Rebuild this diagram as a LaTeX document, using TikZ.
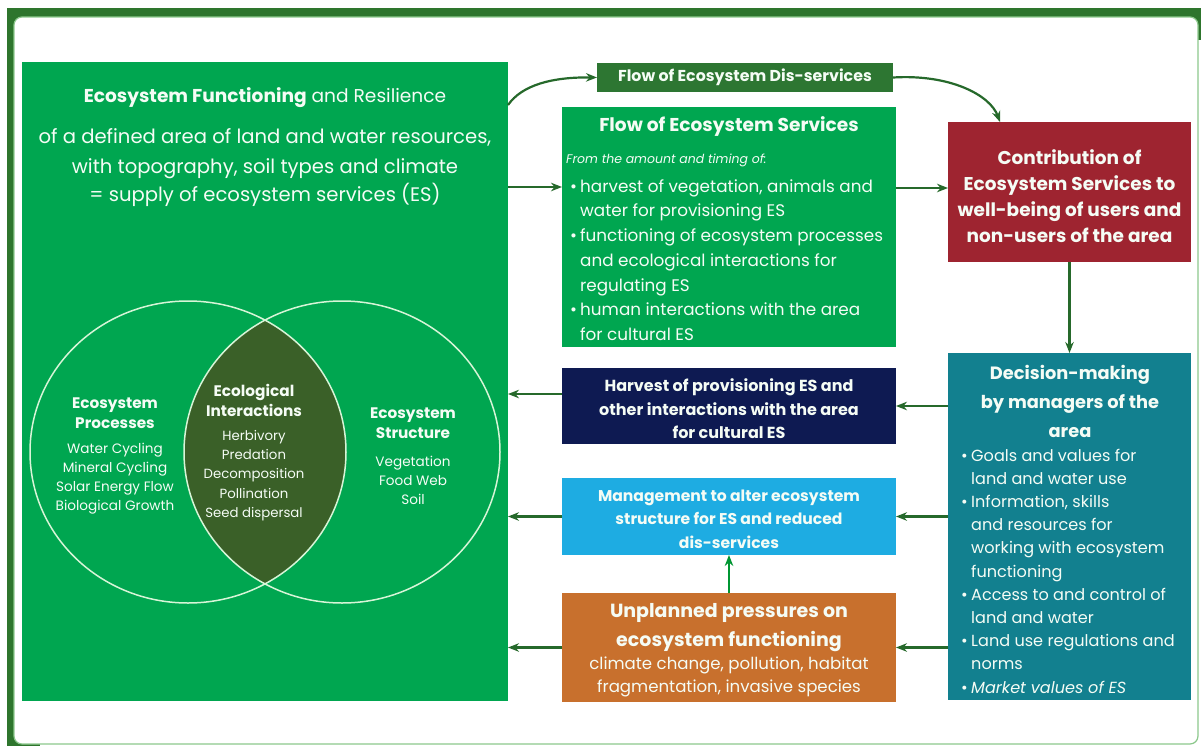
\documentclass[tikz,border=0pt]{standalone}
\usepackage{fontspec}
\setmainfont{Poppins}
\usetikzlibrary{arrows.meta}
\definecolor{frameg}{RGB}{46,117,45}
\definecolor{framel}{RGB}{140,200,140}
\definecolor{boxg}{RGB}{0,166,80}
\definecolor{disg}{RGB}{45,118,50}
\definecolor{arrg}{RGB}{38,105,43}
\definecolor{arrl}{RGB}{0,150,50}
\definecolor{lensg}{RGB}{58,96,40}
\definecolor{ring}{RGB}{215,245,215}
\definecolor{redb}{RGB}{158,36,48}
\definecolor{tealb}{RGB}{18,128,143}
\definecolor{navyb}{RGB}{14,26,82}
\definecolor{lblueb}{RGB}{30,172,226}
\definecolor{orangeb}{RGB}{200,112,45}
\definecolor{txtw}{RGB}{245,252,245}
\newcommand\fs[2]{\fontsize{#1}{#2}\selectfont}
\newcommand\bul{\makebox[10pt][l]{•}}
\newcommand\ind{\hspace*{10pt}}
\begin{document}
\begin{tikzpicture}[x=1pt,y=-1pt,
  panel/.style={inner sep=0pt, outer sep=0pt, text=txtw, align=center},
  txt/.style={inner sep=0pt, text=txtw, align=center},
  arr/.style={draw=arrg, line width=2.2pt, -{Stealth[length=11pt,width=8.5pt]}},
  arrlt/.style={draw=arrl, line width=2.2pt, -{Stealth[length=11pt,width=8.5pt]}},
  ringline/.style={draw=ring, line width=1.5pt}]
% canvas and frame
\fill[white] (0,0) rectangle (1203,747);
\useasboundingbox (0,0) rectangle (1203,747);
\fill[frameg] (7,8) rectangle (1201,40);
\fill[frameg] (7,8) rectangle (40,746);
\filldraw[fill=white, draw=framel, line width=1.2pt, rounded corners=8pt] (14,17) rectangle (1198,744);

% boxes
\node[panel, fill=boxg, minimum width=486pt, minimum height=639pt] (gbox) at (265,381.5) {};
\node[panel, fill=disg, minimum width=296pt, minimum height=29pt, font=\bfseries\fs{15.8}{18}] (dis) at (745,77.5) {Flow of Ecosystem Dis-services};
\node[panel, fill=boxg, minimum width=334pt, minimum height=240pt] (serv) at (729,227) {};
\node[panel, fill=redb, minimum width=243pt, minimum height=140pt] (red) at (1069.5,192) {};
\node[panel, fill=tealb, minimum width=243pt, minimum height=347pt] (dec) at (1069.5,526.5) {};
\node[panel, fill=navyb, minimum width=334pt, minimum height=76pt] (navy) at (729,406) {};
\node[panel, fill=lblueb, minimum width=334pt, minimum height=77pt] (lblue) at (729,516.5) {};
\node[panel, fill=orangeb, minimum width=334pt, minimum height=109pt] (orange) at (729,647.5) {};

% box texts
\node[txt, font=\bfseries\fs{18.5}{26}] (redt) at (1069.5,196) {Contribution of\\Ecosystem Services to\\well-being of users and\\non-users of the area};
\node[txt, font=\bfseries\fs{16}{23.5}] (navyt) at (729,409) {Harvest of provisioning ES and\\other interactions with the area\\for cultural ES};
\node[txt, font=\bfseries\fs{15.6}{23.5}] (lbluet) at (729,519) {Management to alter ecosystem\\structure for ES and reduced\\dis-services};

% main box text
\node[txt, font=\fs{18.6}{23}] (t1) at (265,98) {\textbf{Ecosystem Functioning} and Resilience};
\node[txt, font=\fs{19.6}{30}] (t2) at (265,154) {of a defined area of land and water resources,\\with topography, soil types and climate};
\node[txt, font=\fs{19.6}{23}] (t3) at (265,195) {= supply of ecosystem services (ES)};

% venn
\coordinate (cl) at (188,452);
\coordinate (cr) at (342,452);
\begin{scope}
\clip (cl) ellipse [x radius=158pt, y radius=151pt];
\fill[lensg] (cr) ellipse [x radius=158pt, y radius=151pt];
\end{scope}
\draw[ringline] (cl) ellipse [x radius=158pt, y radius=151pt];
\draw[ringline] (cr) ellipse [x radius=158pt, y radius=151pt];
\node[txt, font=\bfseries\fs{15.3}{19.5}] (ep) at (115,413) {Ecosystem\\Processes};
\node[txt, font=\fs{13.6}{19}] (epl) at (115,478.5) {Water Cycling\\Mineral Cycling\\Solar Energy Flow\\Biological Growth};
\node[txt, font=\bfseries\fs{15.3}{20}] (ei) at (254,400) {Ecological\\Interactions};
\node[txt, font=\fs{13.3}{19.25}] (eil) at (254,475.5) {Herbivory\\Predation\\Decomposition\\Pollination\\Seed dispersal};
\node[txt, font=\bfseries\fs{15.3}{20}] (es) at (413,423) {Ecosystem\\Structure};
\node[txt, font=\fs{13.6}{19}] (esl) at (413,480) {Vegetation\\Food Web\\Soil};

% services text
\node[txt, font=\bfseries\fs{18.6}{20}] (svt) at (729,127) {Flow of Ecosystem Services};
\node[txt, font=\itshape\fs{12.5}{15}, anchor=west] (svi) at (566,160) {From the amount and timing of:};
\node[txt, font=\fs{16.8}{24.7}, anchor=west, align=left] (svl) at (570,260) {\bul harvest of vegetation, animals and\\\ind water for provisioning ES\\\bul functioning of ecosystem processes\\\ind and ecological interactions for\\\ind regulating ES\\\bul human interactions with the area\\\ind for cultural ES};

% decision text
\node[txt, font=\bfseries\fs{17.8}{29}] (dect) at (1070,401) {Decision-making\\by managers of the\\area};
\node[txt, font=\fs{16.1}{23.2}, anchor=west, align=left] (decl) at (961,571) {\bul Goals and values for\\\ind land and water use\\\bul Information, skills\\\ind and resources for\\\ind working with ecosystem\\\ind functioning\\\bul Access to and control of\\\ind land and water\\\bul Land use regulations and\\\ind norms\\\bul \textit{Market values of ES}};

% orange text
\node[txt, font=\bfseries\fs{19}{29}] (ort) at (729,627.5) {Unplanned pressures on\\ecosystem functioning};
\node[txt, font=\fs{16.6}{23}] (orl) at (729,676.5) {climate change, pollution, habitat\\fragmentation, invasive species};

% connectors
\coordinate (sIn) at ([yshift=40pt]serv.west);
\draw[arr] (gbox.east |- sIn) -- (sIn);
\coordinate (rIn) at ([yshift=4pt]red.west);
\draw[arr] (serv.east |- rIn) -- (rIn);
\draw[arr] (red.south) -- (dec.north);
\draw[arr] (dec.west |- navy.east) -- (navy.east);
\draw[arr] (dec.west |- lblue.east) -- (lblue.east);
\draw[arr] (dec.west |- orange.east) -- (orange.east);
\coordinate (nOut) at ([yshift=12pt]navy.west);
\draw[arr] (nOut) -- (gbox.east |- nOut);
\draw[arr] (lblue.west) -- (gbox.east |- lblue.west);
\draw[arr] (orange.west) -- (gbox.east |- orange.west);
\draw[arrlt] (orange.north) -- (lblue.south);
\coordinate (gOut) at ([yshift=-43pt]gbox.north east);
\draw[arr] (gOut) .. controls (522,85) and (552,77) .. (dis.west);
\coordinate (rTop) at ([xshift=-69.5pt]red.north);
\draw[arr] (dis.east) .. controls (950,74) and (990,95) .. (rTop);
\end{tikzpicture}
\end{document}
